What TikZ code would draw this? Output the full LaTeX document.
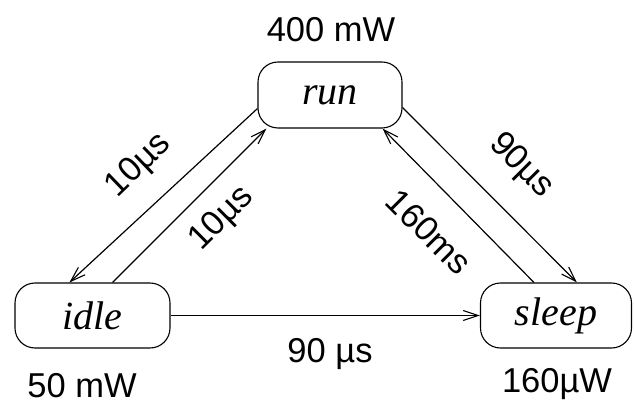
\documentclass[tikz,border=0pt]{standalone}
\usepackage{fontspec}
\setmainfont{Liberation Sans}
\newfontfamily\statefont{Liberation Serif}
\usetikzlibrary{arrows.meta}
\begin{document}
\begin{tikzpicture}[x=1pt,y=1pt,
  state/.style={draw, line width=1.1pt, rounded corners=20pt, inner sep=0pt, font=\statefont\itshape\fontsize{40}{46}\selectfont},
  lbl/.style={font=\fontsize{34.5}{40}\selectfont, inner sep=0pt},
  arr/.style={line width=1.2pt, -{Straight Barb[length=15pt,width=10pt,line width=1.1pt]}}]
\useasboundingbox (0,0) rectangle (634,410);
\node[state, minimum width=144pt, minimum height=66pt] (run) at (330,315) {run};
\node[state, minimum width=155pt, minimum height=65pt] (idle) at (92.5,94.5) {idle};
\node[state, minimum width=151pt, minimum height=65pt] (sleep) at (556,94.5) {sleep};
\draw[arr] ([yshift=20pt]run.south west) -- ([xshift=55pt]idle.north west);
\draw[arr] ([xshift=98pt]idle.north west) -- ([xshift=9pt]run.south west);
\draw[arr] ([yshift=21pt]run.south east) -- ([xshift=97pt]sleep.north west);
\draw[arr] ([xshift=54pt]sleep.north west) -- ([xshift=-20pt]run.south east);
\draw[arr] (idle.east) -- (sleep.west);
\node[lbl] (prun) at (331,380) {400 mW};
\node[lbl] (pidle) at (82,24) {50 mW};
\node[lbl] (psleep) at (557,26) {160µW};
\node[lbl] (tis) at (330,56) {90 µs};
\node[lbl, rotate=44] (tri) at (139,244) {10µs};
\node[lbl, rotate=45] (tir) at (222,191) {10µs};
\node[lbl, rotate=-45] (trs) at (521,244) {90µs};
\node[lbl, rotate=-45] (tsr) at (429,178) {160ms};
\end{tikzpicture}
\end{document}
